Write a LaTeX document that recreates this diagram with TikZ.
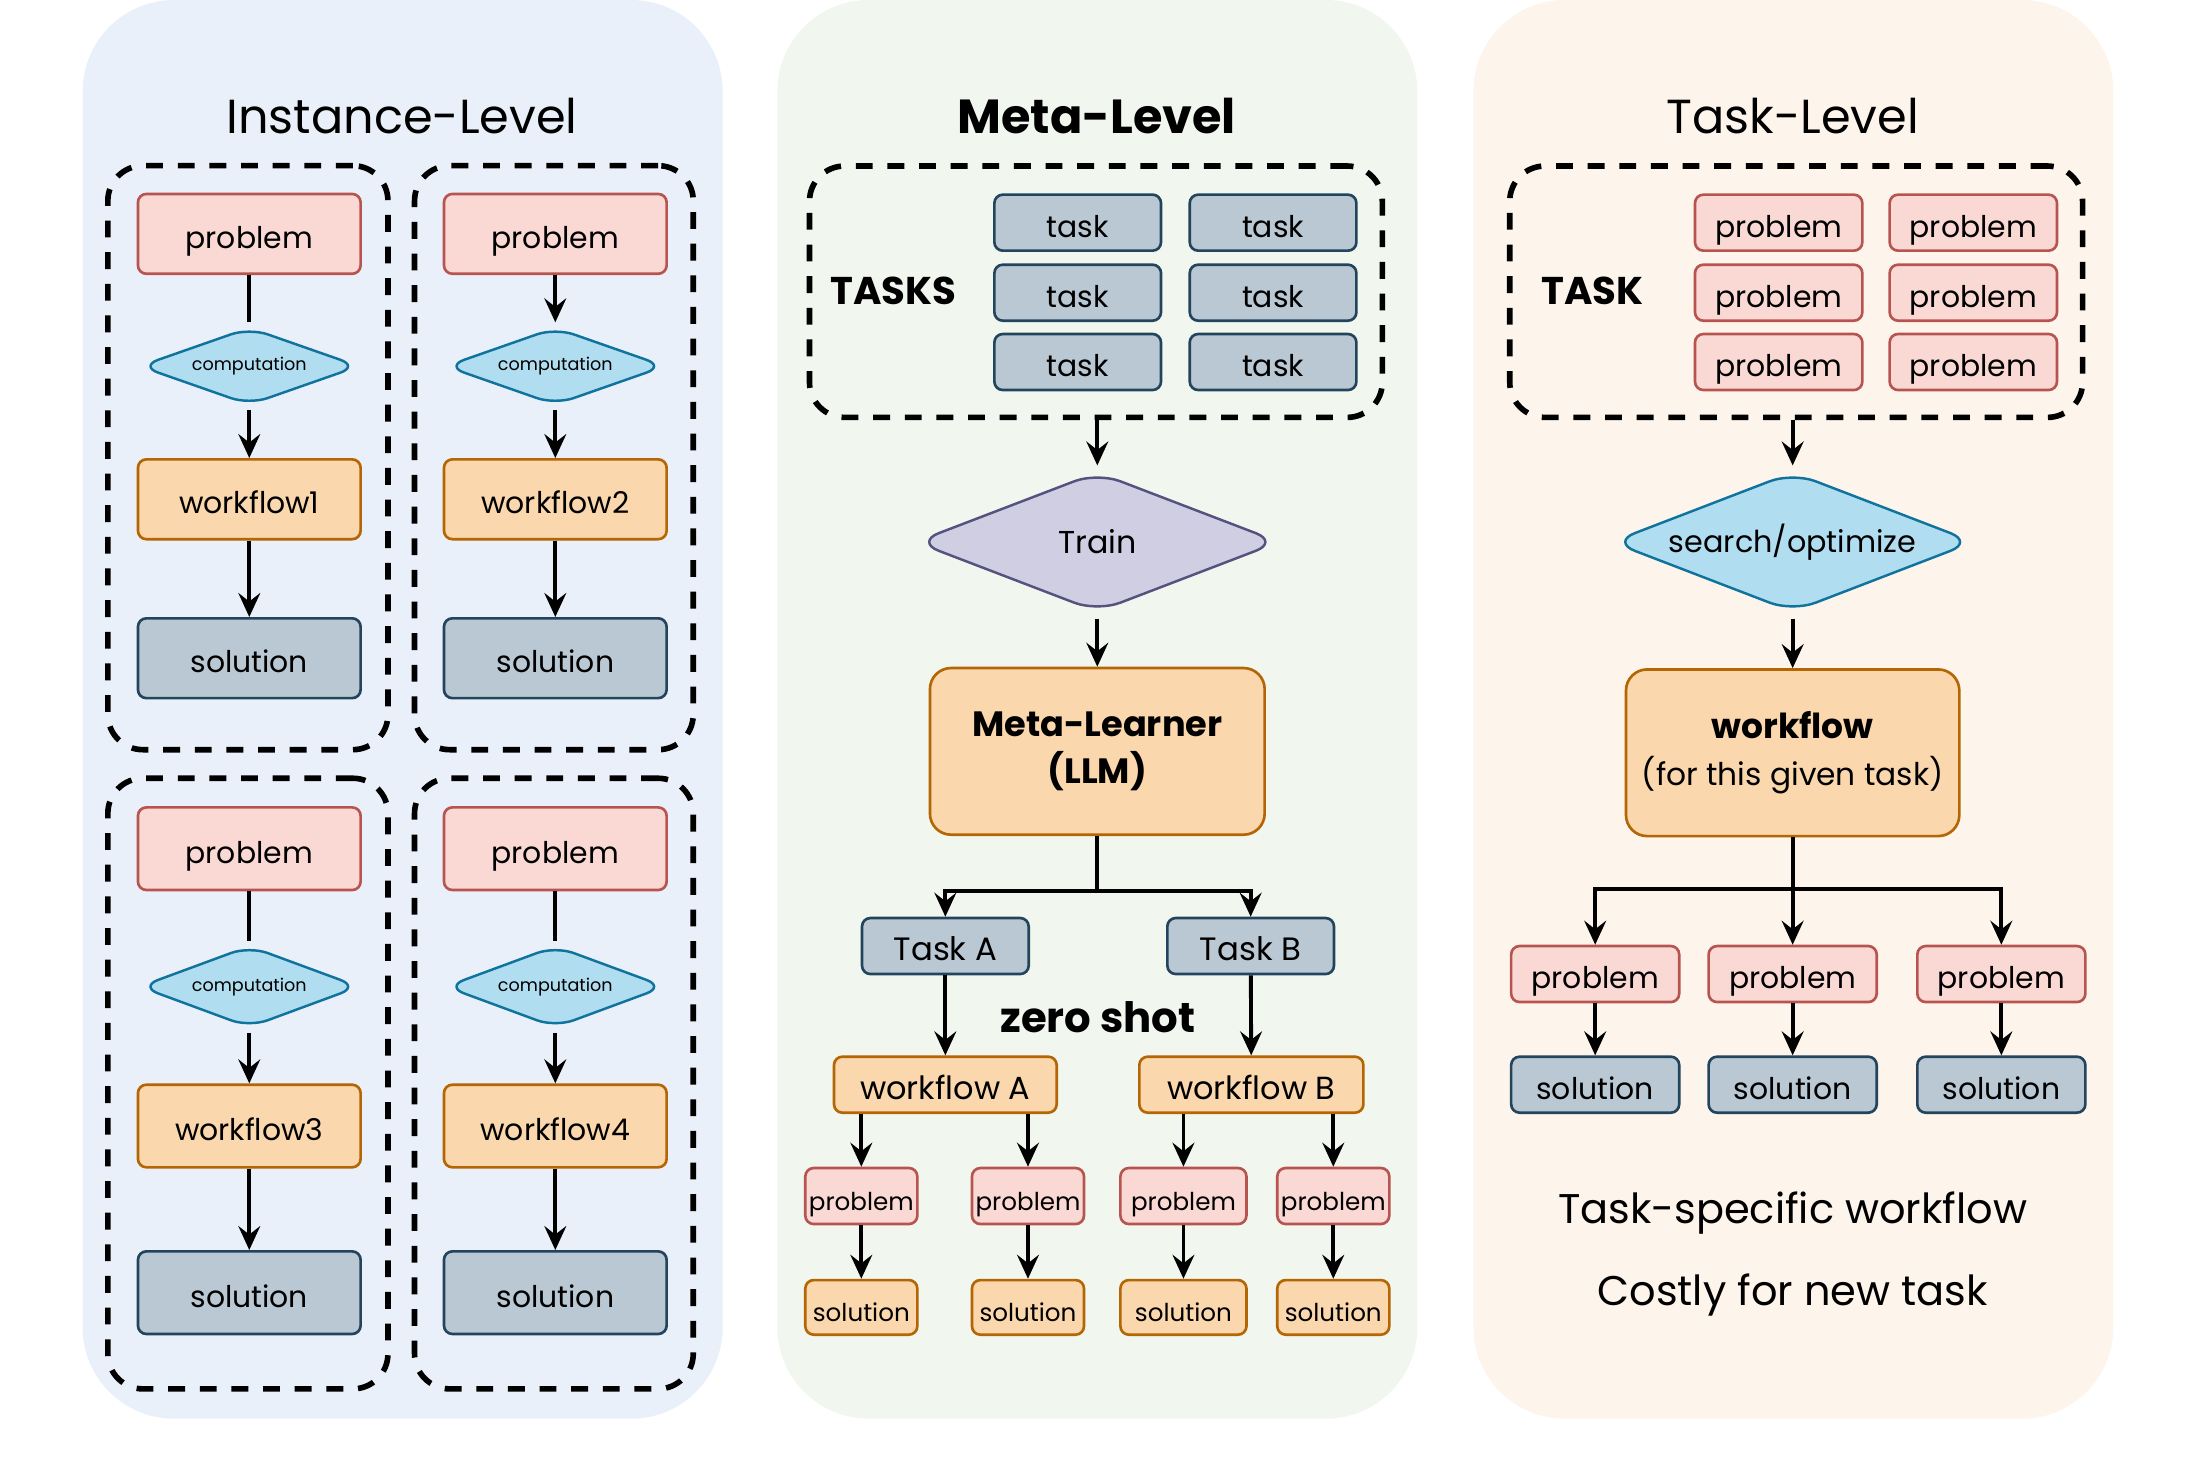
\documentclass[tikz,border=0pt]{standalone}
\usepackage{fontspec}
\setmainfont{Poppins}
\usetikzlibrary{shapes.geometric,arrows.meta}
\newdimen\ux \ux=0.14005mm
\newcommand{\fsz}[1]{\fontsize{#1}{#1}\selectfont}
\definecolor{bgA}{HTML}{E9F0FA}
\definecolor{bgB}{HTML}{F1F7EE}
\definecolor{bgC}{HTML}{FDF5EB}
\definecolor{pfill}{HTML}{FAD9D5}
\definecolor{pdraw}{HTML}{B85450}
\definecolor{wfill}{HTML}{FAD7AC}
\definecolor{wdraw}{HTML}{B46504}
\definecolor{sfill}{HTML}{BAC8D3}
\definecolor{sdraw}{HTML}{23445D}
\definecolor{cfill}{HTML}{B1DDF0}
\definecolor{cdraw}{HTML}{10739E}
\definecolor{tfill}{HTML}{D0CEE2}
\definecolor{tdraw}{HTML}{56517E}
\tikzset{
  sz/.style 2 args={minimum width=#1\ux, minimum height=#2\ux},
  box/.style={rectangle, rounded corners=2.4pt, line width=0.75pt, inner sep=0pt, align=center},
  one/.style={text height=1.1em, text depth=0.27em},
  prob/.style={box, one, fill=pfill, draw=pdraw},
  wf/.style={box, one, fill=wfill, draw=wdraw},
  bigwf/.style={box, rounded corners=6pt, fill=wfill, draw=wdraw},
  sol/.style={box, one, fill=sfill, draw=sdraw},
  dia/.style={diamond, line width=0.7pt, inner sep=0pt, aspect=2.7},
  comp/.style={dia, rounded corners=5.5pt, fill=cfill, draw=cdraw},
  arr/.style={-{Stealth[length=6.8pt,width=6.2pt,inset=2.4pt]}, line width=1.1pt},
  ln/.style={line width=1.1pt},
  grp/.style={rectangle, draw, line width=1.6pt, dash pattern=on 4.8pt off 4.2pt, rounded corners=10pt, inner sep=0pt},
  panel/.style={rounded corners=26pt},
  ttl/.style={font=\fsz{13.6}},
  f1/.style={font=\fsz{8.5}},
  fsm/.style={font=\fsz{7}},
}
\begin{document}
\begin{tikzpicture}[x=0.14005mm, y=-0.14005mm]
\useasboundingbox (0,0) rectangle (1568,1056);
% panels
\fill[bgA, panel] (59,0) rectangle (516,1013);
\fill[bgB, panel] (555,0) rectangle (1012,1013);
\fill[bgC, panel] (1052,0) rectangle (1509,1013);

% ===== Panel 1: Instance-Level =====
\node[ttl] (t1) at (287,83) {Instance-Level};
\node[grp, sz={200}{417}] (g1) at (177,326.8) {};
\node[grp, sz={199}{417}] (g2) at (395.5,326.8) {};
\node[grp, sz={200}{436}] (g3) at (177,773.7) {};
\node[grp, sz={199}{436}] (g4) at (395.5,773.7) {};

\foreach \k/\cx/\py/\cy/\wy/\sy/\h/\dh/\n in {1/178/167/261.5/356.5/470/57/55.4/1, 2/396.5/167/261.5/356.5/470/57/55.4/2, 3/178/606/704.5/804/923/59/58.4/3, 4/396.5/606/704.5/804/923/59/58.4/4}{
  \node[prob, sz={159}{\h}, f1] (p\k) at (\cx,\py) {problem};
  \node[comp, sz={157}{\dh}, font=\fsz{5}] (c\k) at (\cx,\cy) {computation};
  \node[wf, sz={159}{\h}, f1] (w\k) at (\cx,\wy) {workflow\n};
  \node[sol, sz={159}{\h}, f1] (s\k) at (\cx,\sy) {solution};
  \draw[arr, shorten <=1.1pt] (c\k) -- (w\k);
  \draw[arr] (w\k) -- (s\k);
}
\draw[ln, shorten >=1.1pt] (p1) -- (c1);
\draw[arr, shorten >=1.1pt] (p2) -- (c2);
\draw[ln, shorten >=1.1pt] (p3) -- (c3);
\draw[ln, shorten >=1.1pt] (p4) -- (c4);

% ===== Panel 2: Meta-Level =====
\node[ttl, font=\fsz{13.6}\bfseries] (t2) at (783,83) {Meta-Level};
\node[grp, sz={409}{179.5}] (mg) at (782.5,208.3) {};
\node[font=\fsz{11}\bfseries] (tasks) at (638,208) {TASKS};
\foreach \r/\y in {1/159,2/209,3/258.5}{
  \node[sol, sz={119}{40}, font=\fsz{8.5}] (ka\r) at (769.5,\y) {task};
  \node[sol, sz={119}{40}, font=\fsz{8.5}] (kb\r) at (909,\y) {task};
}
\node[dia, rounded corners=7pt, fill=tfill, draw=tdraw, sz={260}{100}, font=\fsz{9}] (train) at (783.5,387) {Train};
\node[bigwf, sz={239}{119}, font=\fsz{10}\bfseries] (ml) at (783.5,536.5) {Meta-Learner\\[3.5pt](LLM)};
\draw[arr, shorten >=1.5pt] (mg.south -| train.north) -- (train.north);
\draw[arr, shorten <=1.5pt] (train) -- (ml);
\node[sol, sz={119}{40}, font=\fsz{9.2}] (ta) at (675,675.5) {Task A};
\node[sol, sz={119}{40}, font=\fsz{9.2}] (tb) at (893,675.5) {Task B};
\coordinate (mlb) at (783.5,636);
\draw[ln] (ml.south) -- (mlb);
\draw[arr] (mlb) -| (ta.north);
\draw[arr] (mlb) -| (tb.north);
\node[font=\fsz{11.9}\bfseries] (zs) at (784,726) {zero shot};
\node[wf, sz={159}{40}, font=\fsz{9.1}] (wa) at (675,774.5) {workflow A};
\node[wf, sz={160}{40}, font=\fsz{9.1}] (wb) at (893.5,774.5) {workflow B};
\draw[arr] (ta) -- (wa);
\draw[arr] (tb) -- (wb);
\foreach \k/\x/\w/\src in {1/615/80/wa, 2/734/80/wa, 3/845/90/wb, 4/952/80/wb}{
  \node[prob, sz={\w}{40}, fsm] (mp\k) at (\x,854) {problem};
  \node[wf, sz={\w}{39}, fsm] (ms\k) at (\x,933.5) {solution};
  \draw[arr] (\src.south -| mp\k.north) -- (mp\k.north);
  \draw[arr] (mp\k) -- (ms\k);
}

% ===== Panel 3: Task-Level =====
\node[ttl] (t3) at (1280,83) {Task-Level};
\node[grp, sz={409}{179.5}] (tg) at (1282.5,208.3) {};
\node[font=\fsz{11}\bfseries] (task) at (1137,208) {TASK};
\foreach \r/\y in {1/159,2/209,3/258.5}{
  \node[prob, sz={119.5}{40}, f1] (qa\r) at (1270,\y) {problem};
  \node[prob, sz={119.5}{40}, f1] (qb\r) at (1409,\y) {problem};
}
\node[comp, rounded corners=7pt, sz={259}{100}, font=\fsz{8.6}] (so) at (1280,387) {search/optimize};
\node[bigwf, sz={238}{119}, font=\fsz{8.9}] (wk) at (1280,537.5) {{\fsz{9.8}\bfseries workflow}\\[4.5pt](for this given task)};
\draw[arr, shorten >=1.5pt] (tg.south -| so.north) -- (so.north);
\draw[arr, shorten <=1.5pt] (so) -- (wk);
\foreach \k/\x in {1/1139,2/1280,3/1429}{
  \node[prob, sz={120}{40}, f1] (q\k) at (\x,695.5) {problem};
  \node[sol, sz={120}{40}, f1] (r\k) at (\x,774.5) {solution};
  \draw[arr] (q\k) -- (r\k);
}
\coordinate (wkb) at (1280,635);
\draw[ln] (wk.south) -- (wkb);
\draw[arr] (wkb) -| (q1.north);
\draw[arr] (wk.south) -- (q2.north);
\draw[arr] (wkb) -| (q3.north);
\node[font=\fsz{11.8}] (n1) at (1280,866) {Task-specific workflow};
\node[font=\fsz{11.8}] (n2) at (1280,925) {Costly for new task};
\end{tikzpicture}
\end{document}
